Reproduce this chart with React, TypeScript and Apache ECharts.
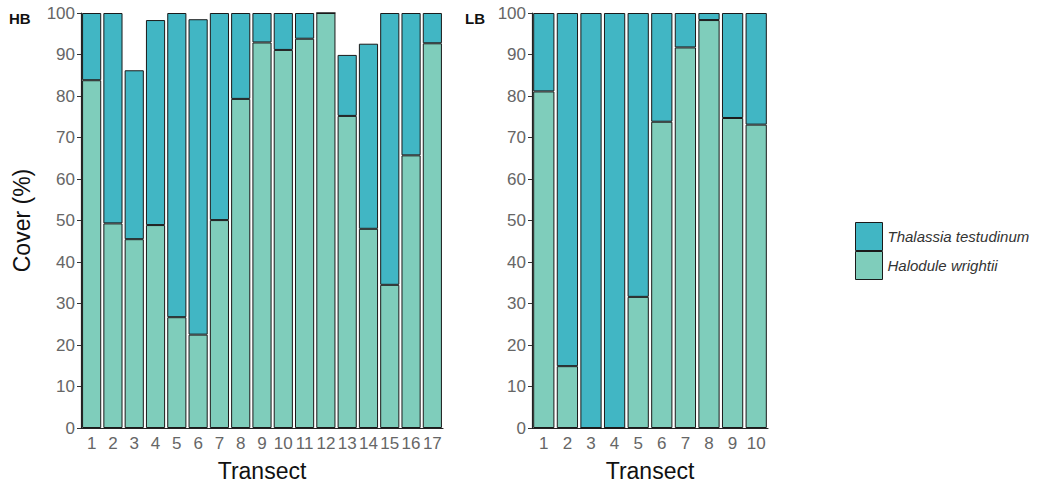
import React, { useEffect, useRef } from "react";
import * as echarts from "echarts";

const hbCategories = ["1","2","3","4","5","6","7","8","9","10","11","12","13","14","15","16","17"];
const hbHalodule = [83.8, 49.3, 45.5, 48.9, 26.7, 22.5, 50.1, 79.3, 92.9, 91.1, 93.8, 100, 75.2, 48.0, 34.5, 65.7, 92.7];
const hbThalassia = [16.2, 50.7, 40.7, 49.4, 73.3, 76.0, 49.9, 20.7, 7.1, 8.9, 6.2, 0, 14.7, 44.6, 65.5, 34.3, 7.3];

const lbCategories = ["1","2","3","4","5","6","7","8","9","10"];
const lbHalodule = [81.1, 14.9, 0, 0, 31.6, 73.8, 91.7, 98.3, 74.7, 73.1];
const lbThalassia = [18.9, 85.1, 100, 100, 68.4, 26.2, 8.3, 1.7, 25.3, 26.9];

const THAL = "Thalassia testudinum";
const HALO = "Halodule wrightii";
const colThal = "#41b6c4";
const colHalo = "#7fcdbb";
const FONT = "Liberation Sans, Arial, sans-serif";

export default function App() {
  const ref = useRef<HTMLDivElement>(null);
  useEffect(() => {
    if (!ref.current) return;
    const chart = echarts.init(ref.current, undefined, { renderer: "svg" });
    const yAxisBase = (gridIndex: number, withName: boolean) => ({
      type: "value",
      gridIndex,
      min: 0,
      max: 100,
      interval: 10,
      name: withName ? "Cover (%)" : "",
      nameLocation: "middle",
      nameGap: 48,
      nameTextStyle: { fontSize: 23, color: "#111", fontFamily: FONT },
      axisLine: { show: true, lineStyle: { color: "#222", width: 1.2 } },
      axisTick: { show: true, length: 4, lineStyle: { color: "#333" } },
      axisLabel: { fontSize: 17, color: "#666", fontFamily: FONT, margin: 6 },
      splitLine: { show: false },
    });
    const xAxisBase = (gridIndex: number, data: string[]) => ({
      type: "category",
      gridIndex,
      data,
      name: "Transect",
      nameLocation: "middle",
      nameGap: 31,
      nameTextStyle: { fontSize: 23, color: "#111", fontFamily: FONT },
      axisLine: { show: true, lineStyle: { color: "#222", width: 1.2 } },
      axisTick: { show: false },
      axisLabel: { interval: 0, fontSize: 17, color: "#666", fontFamily: FONT, margin: 7 },
      splitLine: { show: false },
    });
    const itemBorder = { borderColor: "#1a1a1a", borderWidth: 1 };
    chart.setOption({
      animation: false,
      textStyle: { fontFamily: FONT },
      grid: [
        { left: 81, top: 13, width: 362, height: 415 },
        { left: 532, top: 13, width: 236, height: 415 },
      ],
      xAxis: [xAxisBase(0, hbCategories), xAxisBase(1, lbCategories)],
      yAxis: [yAxisBase(0, true), yAxisBase(1, false)],
      legend: {
        orient: "vertical",
        left: 855,
        top: 222,
        padding: 0,
        itemWidth: 27,
        itemHeight: 28,
        itemGap: 0,
        icon: "rect",
        data: [THAL, HALO],
        textStyle: { fontSize: 15, fontStyle: "italic", color: "#333", fontFamily: FONT },
        itemStyle: { borderColor: "#1a1a1a", borderWidth: 1 },
      },
      graphic: [
        { type: "text", left: 9, top: 11, style: { text: "HB", fontSize: 15, fontWeight: "bold", fill: "#111", fontFamily: FONT } },
        { type: "text", left: 465, top: 11, style: { text: "LB", fontSize: 15, fontWeight: "bold", fill: "#111", fontFamily: FONT } },
      ],
      series: [
        { name: HALO, type: "bar", stack: "hb", xAxisIndex: 0, yAxisIndex: 0, barWidth: "90%", data: hbHalodule, itemStyle: { color: colHalo, ...itemBorder } },
        { name: THAL, type: "bar", stack: "hb", xAxisIndex: 0, yAxisIndex: 0, barWidth: "90%", data: hbThalassia, itemStyle: { color: colThal, ...itemBorder } },
        { name: HALO, type: "bar", stack: "lb", xAxisIndex: 1, yAxisIndex: 1, barWidth: "90%", data: lbHalodule, itemStyle: { color: colHalo, ...itemBorder } },
        { name: THAL, type: "bar", stack: "lb", xAxisIndex: 1, yAxisIndex: 1, barWidth: "90%", data: lbThalassia, itemStyle: { color: colThal, ...itemBorder } },
      ],
    });
    return () => chart.dispose();
  }, []);
  return <div ref={ref} style={{ position: "absolute", left: 0, top: 0, width: 1038, height: 489 }} />;
}
